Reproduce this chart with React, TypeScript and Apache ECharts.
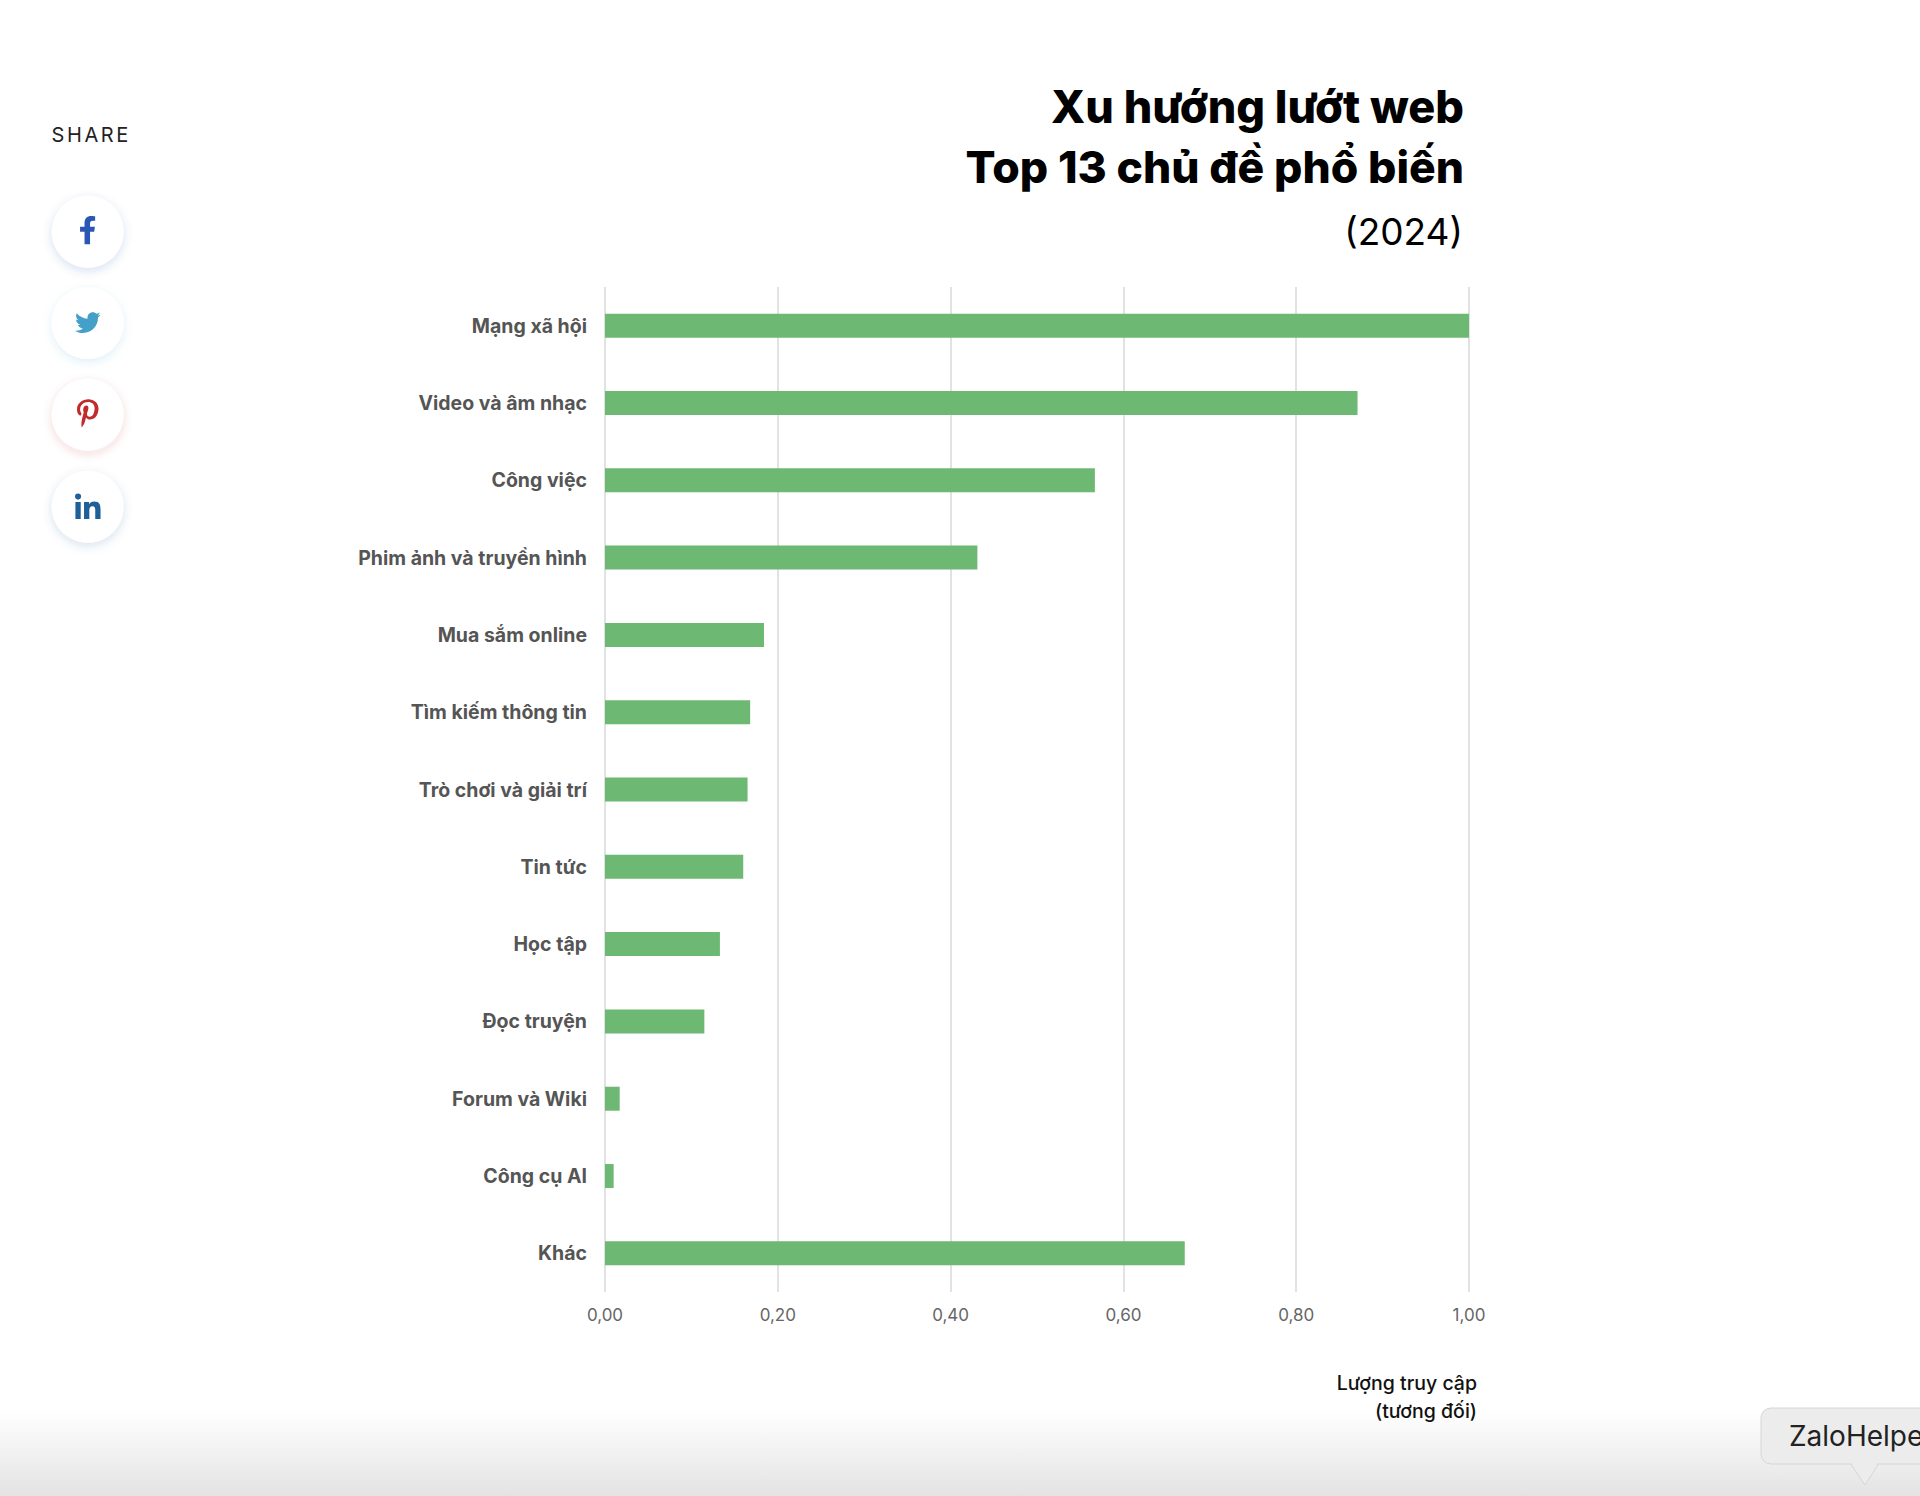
import React, { useEffect, useRef } from "react";
import * as echarts from "echarts";

const categories = ["Mạng xã hội", "Video và âm nhạc", "Công việc", "Phim ảnh và truyền hình", "Mua sắm online", "Tìm kiếm thông tin", "Trò chơi và giải trí", "Tin tức", "Học tập", "Đọc truyện", "Forum và Wiki", "Công cụ AI", "Khác"];
const values = [1.0, 0.871, 0.567, 0.431, 0.184, 0.168, 0.165, 0.16, 0.133, 0.115, 0.017, 0.01, 0.671];
const titleLines = ["Xu hướng lướt web", "Top 13 chủ đề phổ biến", "(2024)"];
const axisNameLines = ["Lượng truy cập", "(tương đối)"];

const FB = "M279.14 288l14.22-92.66h-88.91v-60.13c0-25.35 12.42-50.06 52.24-50.06h40.42V6.26S260.43 0 225.36 0c-73.22 0-121.08 44.38-121.08 124.72v70.62H22.89V288h81.39v224h100.17V288z";
const TW = "M459.37 151.716c.325 4.548.325 9.097.325 13.645 0 138.72-105.583 298.558-298.558 298.558-59.452 0-114.68-17.219-161.137-47.106 8.447.974 16.568 1.299 25.34 1.299 49.055 0 94.213-16.568 130.274-44.832-46.132-.975-84.792-31.188-98.112-72.772 6.498.974 12.995 1.624 19.818 1.624 9.421 0 18.843-1.3 27.614-3.573-48.081-9.747-84.143-51.98-84.143-102.985v-1.299c13.969 7.797 30.214 12.67 47.431 13.319-28.264-18.843-46.781-51.005-46.781-87.391 0-19.492 5.197-37.36 14.294-52.954 51.655 63.675 129.3 105.258 216.365 109.807-1.624-7.797-2.599-15.918-2.599-24.04 0-57.828 46.782-104.934 104.934-104.934 30.213 0 57.502 12.67 76.67 33.137 23.715-4.548 46.456-13.32 66.599-25.34-7.798 24.366-24.366 44.833-46.132 57.827 21.117-2.273 41.584-8.122 60.426-16.243-14.292 20.791-32.161 39.308-52.628 54.253z";
const PI = "M204 6.5C101.4 6.5 0 74.9 0 185.6 0 256 39.6 296 63.6 296c9.9 0 15.6-27.6 15.6-35.4 0-9.3-23.7-29.1-23.7-67.8 0-80.4 61.2-137.4 140.4-137.4 68.1 0 118.5 38.7 118.5 109.8 0 53.1-21.3 152.7-90.3 152.7-24.9 0-46.2-18-46.2-43.8 0-37.8 26.4-74.4 26.4-113.4 0-66.2-93.9-54.2-93.9 25.8 0 16.8 2.1 35.4 9.6 50.7-13.8 59.4-42 147.9-42 209.1 0 18.9 2.7 37.5 4.5 56.4 3.4 3.8 1.7 3.4 6.9 1.5 50.4-69 48.6-82.5 71.4-172.8 12.3 23.4 44.1 36 69.3 36 106.2 0 153.9-103.5 153.9-196.8C384 71.3 298.2 6.5 204 6.5z";
const LI = "M100.28 448H7.4V148.9h92.88zM53.79 108.1C24.09 108.1 0 83.5 0 53.8a53.79 53.79 0 0 1 107.58 0c0 29.7-24.1 54.3-53.79 54.3zM447.9 448h-92.68V302.4c0-34.7-.7-79.2-48.29-79.2-48.29 0-55.69 37.7-55.69 76.7V448h-92.78V148.9h89.08v40.8h1.3c12.4-23.5 42.69-48.3 87.88-48.3 94 0 111.28 61.9 111.28 142.3V448z";

echarts.graphic.registerShape("iconFb", echarts.graphic.extendPath(FB, {}));
echarts.graphic.registerShape("iconTw", echarts.graphic.extendPath(TW, {}));
echarts.graphic.registerShape("iconPi", echarts.graphic.extendPath(PI, {}));
echarts.graphic.registerShape("iconLi", echarts.graphic.extendPath(LI, {}));

const FONT = "Inter";

const button = (cy: number, tint: string) => ({
  type: "circle", shape: { cx: 87.7, cy, r: 36 }, z: 1,
  style: { fill: "#fff", shadowBlur: 10, shadowOffsetY: 3, shadowColor: tint },
});
const icon = (type: string, x: number, y: number, s: number, fill: string) => ({
  type, x, y, scaleX: s, scaleY: s, z: 2, style: { fill },
});

export default function App() {
  const ref = useRef<HTMLDivElement>(null);
  useEffect(() => {
    const chart = echarts.init(ref.current!, null, { renderer: "svg" });
    chart.setOption({
      animation: false,
      backgroundColor: "#fff",
      grid: { left: 605, top: 287, width: 864, height: 1005, containLabel: false },
      xAxis: {
        type: "value", min: 0, max: 1, interval: 0.2,
        axisLine: { show: false }, axisTick: { show: false },
        splitLine: { show: true, lineStyle: { color: "#e2e2e2", width: 2 } },
        axisLabel: {
          margin: 14, fontFamily: FONT, fontSize: 17, color: "#666",
          formatter: (v: number) => v.toFixed(2).replace(".", ","),
        },
      },
      yAxis: {
        type: "category", inverse: true, data: categories,
        axisLine: { show: false }, axisTick: { show: false },
        axisLabel: { margin: 18, fontFamily: FONT, fontSize: 19.5, fontWeight: 700, color: "#555", padding: [0, 0, 2, 0] },
      },
      series: [{
        type: "bar", data: values, barWidth: 24,
        itemStyle: { color: "#6db872" }, silent: true,
      }],
      graphic: [
        { type: "rect", shape: { x: 0, y: 1410, width: 1920, height: 86 }, z: -1, silent: true,
          style: { fill: new echarts.graphic.LinearGradient(0, 0, 0, 1, [{ offset: 0, color: "#ffffff" }, { offset: 1, color: "#e3e3e3" }]) } },
        { type: "text", x: 51.5, y: 135, z: 2, style: { text: "SHARE", font: `400 20px ${FONT}`, fill: "#222", verticalAlign: "middle" } },
        button(231.7, "rgba(42,86,181,0.18)"),
        button(323, "rgba(68,159,201,0.16)"),
        button(414.7, "rgba(193,43,43,0.16)"),
        button(506.7, "rgba(31,96,153,0.18)"),
        icon("iconFb", 78.8, 216, 0.055, "#2a56b5"),
        icon("iconTw", 75, 309.8, 0.05, "#449fc9"),
        icon("iconPi", 77, 399, 0.0555, "#c12b2b"),
        icon("iconLi", 75, 493.5, 0.0574, "#1f6099"),
        { type: "text", x: 1464, y: 106, z: 2, style: { text: titleLines[0], font: `800 45px ${FONT}`, fill: "#000", textAlign: "right", verticalAlign: "middle" } },
        { type: "text", x: 1464, y: 167, z: 2, style: { text: titleLines[1], font: `800 44.5px ${FONT}`, fill: "#000", textAlign: "right", verticalAlign: "middle" } },
        { type: "text", x: 1463, y: 231, z: 2, style: { text: titleLines[2], font: `400 37px ${FONT}`, fill: "#000", textAlign: "right", verticalAlign: "middle" } },
        { type: "text", x: 1477, y: 1383, z: 2, style: { text: axisNameLines[0], font: `500 19.5px ${FONT}`, fill: "#111", textAlign: "right", verticalAlign: "middle" } },
        { type: "text", x: 1477, y: 1411, z: 2, style: { text: axisNameLines[1], font: `500 19.5px ${FONT}`, fill: "#111", textAlign: "right", verticalAlign: "middle" } },
        { type: "polygon", shape: { points: [[1850, 1463], [1879, 1463], [1865, 1485]] }, z: 3, style: { fill: "#ececec", stroke: "#d6d6d6", lineWidth: 1 } },
        { type: "rect", shape: { x: 1761, y: 1408, width: 200, height: 56, r: 10 }, z: 3, style: { fill: "#ececec", stroke: "#d6d6d6", lineWidth: 1 } },
        { type: "polygon", shape: { points: [[1851, 1462], [1878, 1462], [1865, 1484]] }, z: 3, style: { fill: "#ececec" } },
        { type: "text", x: 1789, y: 1436, z: 4, style: { text: "ZaloHelper", font: `400 28px ${FONT}`, fill: "#222", verticalAlign: "middle" } },
      ],
    });
    ref.current!.querySelectorAll("text").forEach((t) => {
      if (t.textContent === "SHARE") (t as SVGTextElement).style.letterSpacing = "2.6px";
    });
    return () => chart.dispose();
  }, []);
  return <div ref={ref} style={{ position: "absolute", left: 0, top: 0, width: 1920, height: 1496 }} />;
}
